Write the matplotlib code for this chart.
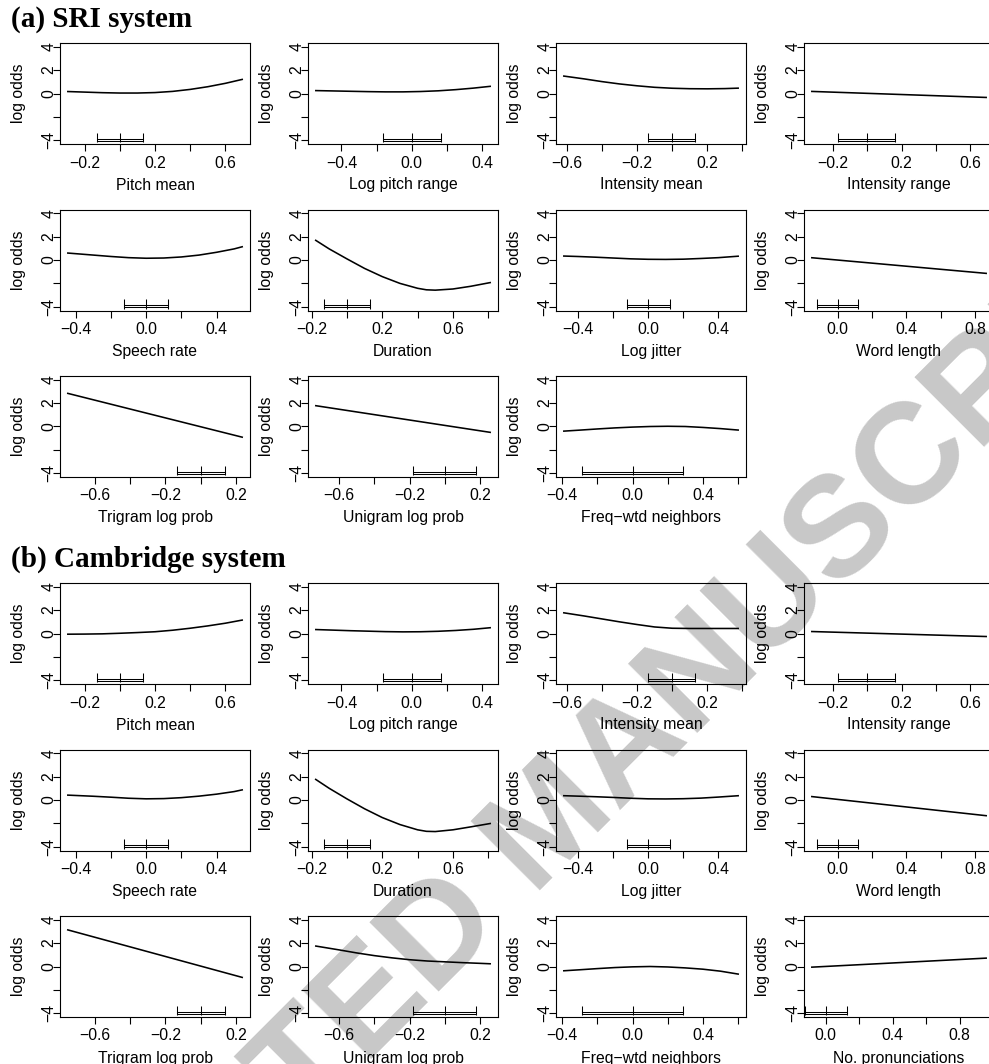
import matplotlib
matplotlib.use('Agg')
import matplotlib.pyplot as plt
import matplotlib.transforms as mtrans
import numpy as np

plt.rcParams['font.family'] = ['Liberation Sans', 'DejaVu Sans']
plt.rcParams['axes.unicode_minus'] = True

# ---------------- data ----------------
var_names = ["Pitch mean", "Log pitch range", "Intensity mean", "Intensity range",
             "Speech rate", "Duration", "Log jitter", "Word length",
             "Trigram log prob", "Unigram log prob", "Freq\u2212wtd neighbors",
             "No. pronunciations"]

# x positions of the read-off curve points (per predictor)
xg_pitch = [-0.30, -0.20, -0.10, 0.00, 0.10, 0.20, 0.30, 0.40, 0.50, 0.60, 0.70]
xg_lpr = [-0.55, -0.45, -0.35, -0.25, -0.15, -0.05, 0.05, 0.15, 0.25, 0.35, 0.45]
xg_int = [-0.62, -0.50, -0.40, -0.30, -0.20, -0.10, 0.00, 0.10, 0.20, 0.30, 0.38]
xg_irange = [-0.33, 0.70]
xg_rate = [-0.45, -0.30, -0.20, -0.10, 0.00, 0.10, 0.20, 0.30, 0.40, 0.50, 0.55]
xg_dur = [-0.18, -0.10, 0.00, 0.10, 0.20, 0.30, 0.40, 0.45, 0.50, 0.60, 0.70, 0.815]
xg_jit = [-0.485, -0.40, -0.30, -0.20, -0.10, 0.00, 0.10, 0.20, 0.30, 0.40, 0.518]
xg_wlen = [-0.156, 0.87]
xg_tri = [-0.757, 0.24]
xg_uni_line = [-0.737, 0.262]
xg_uni = [-0.737, -0.60, -0.50, -0.40, -0.30, -0.20, -0.10, 0.00, 0.10, 0.20, 0.262]
xg_freq = [-0.395, -0.30, -0.20, -0.10, 0.00, 0.10, 0.20, 0.30, 0.40, 0.50, 0.605]
xg_npron = [-0.087, 0.963]

# (a) SRI system: log odds
sri_pitch = [0.17, 0.12, 0.07, 0.04, 0.04, 0.08, 0.18, 0.35, 0.58, 0.87, 1.22]
sri_lpr = [0.25, 0.22, 0.19, 0.16, 0.14, 0.14, 0.17, 0.23, 0.33, 0.46, 0.62]
sri_int = [1.50, 1.25, 1.02, 0.82, 0.66, 0.53, 0.45, 0.41, 0.40, 0.42, 0.46]
sri_irange = [0.18, -0.34]
sri_rate = [0.60, 0.42, 0.30, 0.20, 0.15, 0.17, 0.26, 0.42, 0.66, 0.95, 1.15]
sri_dur = [1.72, 0.95, 0.10, -0.72, -1.42, -2.00, -2.42, -2.55, -2.58, -2.48, -2.25, -1.92]
sri_jit = [0.34, 0.30, 0.24, 0.17, 0.10, 0.06, 0.05, 0.07, 0.13, 0.20, 0.33]
sri_wlen = [0.20, -1.15]
sri_tri = [2.85, -0.93]
sri_uni = [1.79, -0.51]
sri_freq = [-0.40, -0.31, -0.21, -0.12, -0.05, 0.00, 0.02, 0.00, -0.08, -0.18, -0.31]

# (b) Cambridge system: log odds
cam_pitch = [-0.06, -0.05, -0.03, 0.02, 0.08, 0.15, 0.28, 0.45, 0.65, 0.88, 1.16]
cam_lpr = [0.34, 0.29, 0.24, 0.20, 0.16, 0.14, 0.15, 0.19, 0.26, 0.36, 0.50]
cam_int = [1.78, 1.50, 1.25, 1.00, 0.77, 0.56, 0.45, 0.43, 0.43, 0.43, 0.43]
cam_irange = [0.17, -0.26]
cam_rate = [0.42, 0.32, 0.24, 0.15, 0.10, 0.12, 0.20, 0.33, 0.50, 0.72, 0.88]
cam_dur = [1.80, 1.00, 0.10, -0.75, -1.50, -2.10, -2.55, -2.68, -2.70, -2.55, -2.30, -2.00]
cam_jit = [0.37, 0.33, 0.28, 0.22, 0.15, 0.10, 0.09, 0.11, 0.16, 0.25, 0.37]
cam_wlen = [0.30, -1.35]
cam_tri = [3.15, -0.95]
cam_uni = [1.76, 1.42, 1.16, 0.93, 0.74, 0.58, 0.47, 0.40, 0.33, 0.27, 0.23]
cam_freq = [-0.37, -0.28, -0.18, -0.09, -0.03, 0.00, -0.04, -0.12, -0.23, -0.40, -0.66]
cam_npron = [-0.06, 0.72]

# range bars along the bottom of each panel (low, centre, high)
bar_lo = [-0.13, -0.165, -0.135, -0.17, -0.124, -0.13, -0.123, -0.12, -0.136, -0.182, -0.285, -0.123]
bar_mid = [0.0, 0.0, 0.0, 0.0, 0.0, 0.0, 0.0, 0.0, 0.0, 0.0, 0.0, 0.0]
bar_hi = [0.13, 0.165, 0.13, 0.16, 0.124, 0.13, 0.124, 0.117, 0.136, 0.178, 0.286, 0.13]

yticks = [-4, -2, 0, 2, 4]
ytick_labels = ["\u22124", "", "0", "2", "4"]
section_titles = ["(a) SRI system", "(b) Cambridge system"]
watermark = "ACCEPTED MANUSCRIPT"

sri_x = [xg_pitch, xg_lpr, xg_int, xg_irange, xg_rate, xg_dur, xg_jit, xg_wlen,
         xg_tri, xg_uni_line, xg_freq]
sri_y = [sri_pitch, sri_lpr, sri_int, sri_irange, sri_rate, sri_dur, sri_jit, sri_wlen,
         sri_tri, sri_uni, sri_freq]
cam_x = [xg_pitch, xg_lpr, xg_int, xg_irange, xg_rate, xg_dur, xg_jit, xg_wlen,
         xg_tri, xg_uni, xg_freq, xg_npron]
cam_y = [cam_pitch, cam_lpr, cam_int, cam_irange, cam_rate, cam_dur, cam_jit, cam_wlen,
         cam_tri, cam_uni, cam_freq, cam_npron]

# ---------------- layout ----------------
W, H = 989, 1064
fig = plt.figure(figsize=(W / 100, H / 100), dpi=100)
fig.patch.set_facecolor('white')

col_left = [60, 308, 556, 804]
row_top = [[43, 209.5, 376], [583, 749.5, 916]]
AX_W, AX_H = 190, 101
FS = 11.3
LW = 0.8


def px(dx, dy):
    return mtrans.ScaledTranslation(dx / 100, dy / 100, fig.dpi_scale_trans)


def panel(left, top, idx, xs, ys):
    ax = fig.add_axes([left / W, 1 - (top + AX_H) / H, AX_W / W, AX_H / H])
    ax.patch.set_alpha(0)
    a, b = min(xs), max(xs)
    pad = 0.04 * (b - a)
    x0, x1 = a - pad, b + pad
    ax.set_xlim(x0, x1)
    ax.set_ylim(-4.32, 4.32)
    ax.plot(xs, ys, color='black', lw=1.15, solid_capstyle='butt')
    lo, mid, hi = bar_lo[idx], bar_mid[idx], bar_hi[idx]
    for yy in (-3.89, -4.06):
        ax.plot([lo, hi], [yy, yy], color='black', lw=0.75)
    ax.vlines([lo, mid, hi], -4.18, -3.34, color='black', lw=0.75)

    # x ticks every 0.2, labels on alternate ticks
    k0 = int(np.ceil(x0 / 0.2 - 1e-9))
    k1 = int(np.floor(x1 / 0.2 + 1e-9))
    xt = [k * 0.2 for k in range(k0, k1 + 1)]
    ax.set_xticks(xt)
    ax.set_xticklabels([])
    ax.set_yticks(yticks)
    ax.set_yticklabels([])
    ax.tick_params(direction='out', length=5, width=LW, color='black')
    for s in ax.spines.values():
        s.set_linewidth(LW)
    xtr = ax.get_xaxis_transform()
    for i, t in enumerate(xt):
        if i % 2 == 0:
            lab = f"{t:.1f}".replace('-', '\u2212')
            if lab == "\u22120.0":
                lab = "0.0"
            ax.text(t, 0, lab, transform=xtr + px(0, -23.5), ha='center',
                    va='baseline', fontsize=FS, clip_on=False)
    ytr = ax.get_yaxis_transform()
    for t, lab in zip(yticks, ytick_labels):
        if lab:
            ax.text(0, t, lab, transform=ytr + px(-6.5, 0), ha='center',
                    va='baseline', rotation=90, rotation_mode='anchor',
                    fontsize=FS, clip_on=False)
    ax.text(0.5, 0, var_names[idx], transform=ax.transAxes + px(0, -45.5),
            ha='center', va='baseline', fontsize=FS, clip_on=False)
    ax.text(0, 0.5, "log odds", transform=ax.transAxes + px(-36.5, 0),
            ha='center', va='baseline', rotation=90, rotation_mode='anchor',
            fontsize=FS, clip_on=False)
    return ax


for s, (xl, yl) in enumerate([(sri_x, sri_y), (cam_x, cam_y)]):
    for i in range(len(xl)):
        r, c = divmod(i, 4)
        panel(col_left[c], row_top[s][r], i, xl[i], yl[i])

fig.text(11 / W, 1 - 27 / H, section_titles[0], family=['Liberation Serif', 'DejaVu Serif'],
         fontweight='bold', fontsize=21, ha='left', va='baseline')
fig.text(11 / W, 1 - 567 / H, section_titles[1], family=['Liberation Serif', 'DejaVu Serif'],
         fontweight='bold', fontsize=21, ha='left', va='baseline')

# watermark (partly outside the page, as in the source)
fig.text(552 / W, 1 - 826 / H, watermark, rotation=45, fontsize=103,
         fontweight='bold', color='#c8c8c8', ha='center', va='center',
         rotation_mode='anchor', zorder=-5)

fig.savefig('out.png', dpi=100, facecolor='white')
